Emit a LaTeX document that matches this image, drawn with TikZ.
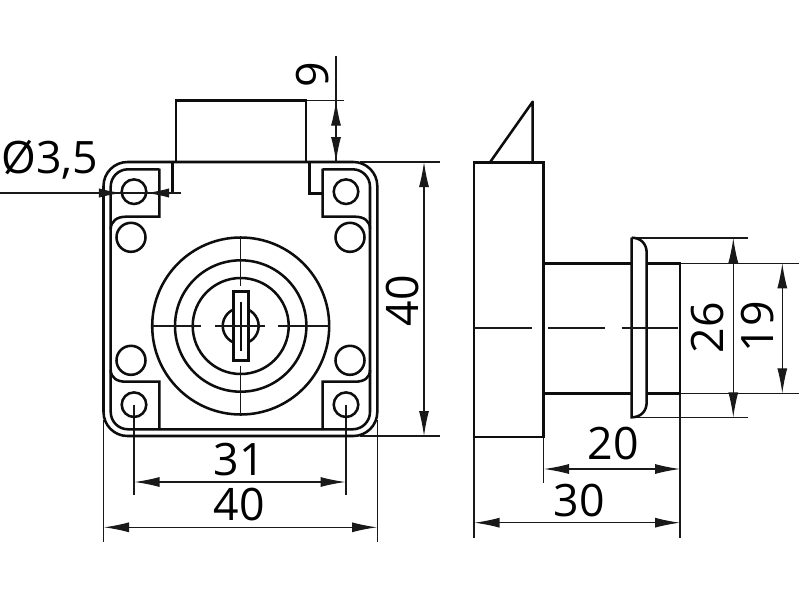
\documentclass[tikz,border=0pt]{standalone}
\usepackage{fontspec}
\setmainfont{Open Sans}
\usetikzlibrary{arrows.meta}
\tikzset{
  heavy/.style={line width=1.9pt,line cap=butt,line join=miter,black!95},
  medium/.style={line width=1.3pt,black!95},
  thin line/.style={line width=0.8pt,black!90},
  dim/.style={thin line,{Latex[length=18.75pt,width=7.5pt]}-{Latex[length=18.75pt,width=7.5pt]}},
  dimtext/.style={anchor=base,inner sep=0pt,outer sep=0pt,font=\fontsize{33.5}{40}\selectfont,text=black},
}
\begin{document}
\begin{tikzpicture}[x=0.75pt,y=-0.75pt]
\useasboundingbox (0,0) rectangle (800,600);
\fill[white] (0,0) rectangle (800,600);

% ---- front view: extension lines
\draw[thin line] (103.5,420) -- (103.5,542);
\draw[thin line] (377.3,420) -- (377.3,542);
\draw[thin line] (134,404.7) -- (134,495);
\draw[thin line] (346,404.7) -- (346,495);
\draw[thin line] (360,162) -- (440,162);
\draw[thin line] (360,436) -- (440,436);
\draw[thin line] (306,100.7) -- (344,100.7);

% housing
\draw[heavy,rounded corners=18] (103.5,162) rectangle (377.3,436);
% inner plate
\draw[heavy,rounded corners=13]
  (159.3,169.3) -- (110.7,169.3) -- (110.7,429.3) -- (370,429.3) -- (370,169.3) -- (322.7,169.3);
\draw[heavy] (159.3,168.5) -- (159.3,216.7) -- (126,216.7)
  .. controls (117,216.7) and (111,221) .. (110.7,229);
\draw[heavy] (322.7,168.5) -- (322.7,216.7) -- (355,216.7)
  .. controls (364,216.7) and (370,221) .. (370,229);
\draw[heavy] (159.3,430) -- (159.3,381.7) -- (126,381.7)
  .. controls (117,381.7) and (111,378) .. (110.7,370);
\draw[heavy] (322.7,430) -- (322.7,381.7) -- (355,381.7)
  .. controls (364,381.7) and (370,378) .. (370,370);

% bolt and its slots
\draw[heavy] (176,162) -- (176,100.7) -- (306,100.7) -- (306,162);
\draw[heavy] (172.3,162) -- (172.3,193.3);
\draw[heavy] (309.3,162) -- (309.3,193.5) -- (322.7,193.5);

% holes
\foreach \hx/\hy in {134/191.7,346/191.7,134/404.7,346/404.7}
  \draw[heavy] (\hx,\hy) circle (12.3);
\foreach \hx/\hy in {131/237.3,350/237.3,131/360.3,350/360.3}
  \draw[heavy] (\hx,\hy) circle (14.5);

% lock cylinder
\draw[heavy] (240.7,326) circle (88.5);
\draw[heavy] (240.7,326) circle (65.7);
\draw[heavy] (240.7,326) circle (48);
\draw[heavy] (233.7,309.4) arc[start angle=247,end angle=113,radius=18];
\draw[heavy] (247.7,309.4) arc[start angle=-67,end angle=67,radius=18];
\draw[heavy] (233.7,291.7) rectangle (248.3,360.7);
\draw[medium] (240.7,301.5) -- (240.7,350.5);

% centre lines, front view
\draw[thin line] (152,326) -- (201,326);
\draw[thin line] (215,326) -- (265,326);
\draw[thin line] (278,326) -- (329,326);
\draw[thin line] (240.7,237) -- (240.7,286);
\draw[thin line] (240.7,365.7) -- (240.7,415);

% ---- side view
\draw[thin line] (474,437) -- (474,538);
\draw[thin line] (543.7,437) -- (543.7,483);
\draw[thin line] (680,393.3) -- (680,538);
\draw[thin line] (636,238) -- (748,238);
\draw[thin line] (636,417.3) -- (748,417.3);
\draw[thin line] (680,263.3) -- (799,263.3);
\draw[thin line] (680,393.3) -- (799,393.3);

\draw[heavy] (474,162.3) rectangle (543.7,437);
\draw[heavy,line join=round] (490,162.3) -- (532.7,101.7) -- (532.7,162.3);
\draw[heavy] (543.7,263.3) -- (631.7,263.3);
\draw[heavy] (543.7,393.3) -- (631.7,393.3);
\draw[heavy] (646.7,263.3) -- (680,263.3) -- (680,393.3) -- (646.7,393.3);
\draw[heavy] (631.7,237.7) -- (631.7,417.3)
  .. controls (640,417.3) and (646.7,412) .. (646.7,402)
  -- (646.7,253)
  .. controls (646.7,243) and (640,237.7) .. (631.7,237.7);

% centre line, side view
\draw[thin line] (474,328) -- (532,328);
\draw[thin line] (548,328) -- (605,328);
\draw[thin line] (621.7,328) -- (678,328);

% ---- dimensions
\draw[thin line] (336,56) -- (336,162);
\draw[thin line,-{Latex[length=18.75pt,width=7.5pt]}] (336,125) -- (336,100.7);
\draw[thin line,-{Latex[length=18.75pt,width=7.5pt]}] (336,136) -- (336,162);

\draw[thin line] (0,193) -- (181,193);
\draw[thin line,-{Latex[length=17pt,width=7pt]}] (97,193) -- (121.5,193);
\draw[thin line,-{Latex[length=17pt,width=7pt]}] (172,193) -- (146.5,193);

\draw[dim] (424,162) -- (424,436);
\draw[dim] (134.5,482) -- (345.5,482);
\draw[dim] (104,527.3) -- (377,527.3);
\draw[dim] (733.3,238) -- (733.3,417.3);
\draw[dim] (782.3,263.3) -- (782.3,393.3);
\draw[dim] (544,469) -- (680,469);
\draw[dim] (474.5,522.7) -- (680,522.7);

\node[dimtext,rotate=90] (t9) at (328,74.5) {9};
\node[dimtext] (td) at (50,173) {Ø3,5};
\node[dimtext,rotate=90] (t40r) at (418.5,301) {40};
\node[dimtext] (t31) at (239,475.5) {31};
\node[dimtext] (t40b) at (239,520.5) {40};
\node[dimtext,rotate=90] (t26) at (723.5,328) {26};
\node[dimtext,rotate=90] (t19) at (773,327) {19};
\node[dimtext] (t20) at (613,459.5) {20};
\node[dimtext] (t30) at (579,516) {30};
\end{tikzpicture}
\end{document}
